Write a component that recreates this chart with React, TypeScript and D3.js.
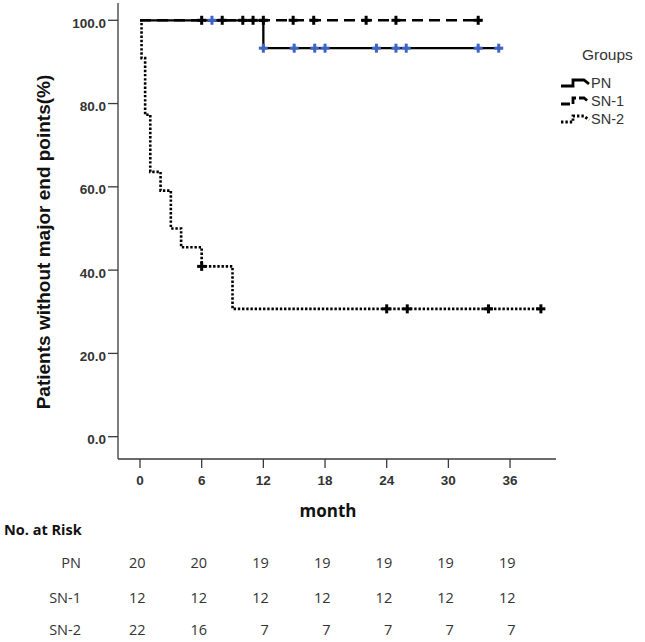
import React from "react";
import * as d3 from "d3";

// ---- Data ----
const groups = ["PN", "SN-1", "SN-2"];

// Kaplan-Meier step points [month, survival %]
const pnSteps: [number, number][] = [
  [0, 100],
  [12, 93.3],
  [35.3, 93.3],
];
const sn1Steps: [number, number][] = [
  [0, 100],
  [33.3, 100],
];
const sn2Steps: [number, number][] = [
  [0, 100],
  [0.15, 90.9],
  [0.5, 77.3],
  [1.0, 63.6],
  [2.0, 59.1],
  [3.0, 50.0],
  [4.0, 45.5],
  [6.0, 40.9],
  [9.0, 30.7],
  [39.0, 30.7],
];

// censor marks [month, survival %]
const pnCensor: [number, number][] = [
  [7, 100], [12, 93.3], [15, 93.3], [17, 93.3], [18, 93.3], [23, 93.3],
  [24.9, 93.3], [25.9, 93.3], [32.9, 93.3], [34.9, 93.3],
];
const sn1Censor: [number, number][] = [
  [6, 100], [8, 100], [10, 100], [11, 100], [12, 100], [14.9, 100],
  [16.9, 100], [22, 100], [24.9, 100], [32.9, 100],
];
const sn2Censor: [number, number][] = [
  [6, 40.9], [24, 30.7], [26, 30.7], [33.9, 30.7], [39, 30.7],
];

const xTicks = [0, 6, 12, 18, 24, 30, 36];
const yTicks = [0, 20, 40, 60, 80, 100];

const riskPN = [20, 20, 19, 19, 19, 19, 19];
const riskSN1 = [12, 12, 12, 12, 12, 12, 12];
const riskSN2 = [22, 16, 7, 7, 7, 7, 7];

// ---- Layout ----
const W = 645;
const H = 642;
const x = d3.scaleLinear().domain([-2.14, 40.47]).range([118, 556]);
const y = d3.scaleLinear().domain([-5.36, 104.15]).range([459, 3]);

const stepPath = (pts: [number, number][]) =>
  d3.line<[number, number]>()
    .x((d) => x(d[0]))
    .y((d) => y(d[1]))
    .curve(d3.curveStepAfter)(pts) || "";

const Cross = ({ cx, cy, color }: { cx: number; cy: number; color: string }) => (
  <g stroke={color} strokeWidth={3}>
    <line x1={cx - 4.5} x2={cx + 4.5} y1={cy} y2={cy} />
    <line x1={cx} x2={cx} y1={cy - 4.5} y2={cy + 4.5} />
  </g>
);

const BLUE = "#3f63c4";
const AX = "#3a3a3a";
const tickFont = "'Liberation Sans', Arial, sans-serif";
const tblFont = "'Open Sans', 'Noto Sans', sans-serif";

export default function App() {
  const riskRows = [riskPN, riskSN1, riskSN2];
  const rowY = [568, 603, 635];
  const colRight = (i: number) => x(xTicks[i]) + 5.5;

  const legendStyles = [
    { dash: undefined as string | undefined, w: 2.8 },
    { dash: "9,3", w: 2.8 },
    { dash: "2.4,2", w: 2.8 },
  ];

  return (
    <svg
      width={W}
      height={H}
      viewBox={`0 0 ${W} ${H}`}
      style={{ position: "absolute", left: 0, top: 0, background: "#fff" }}
    >
      <rect x={0} y={0} width={W} height={H} fill="#fff" />

      {/* axes */}
      <line x1={118} x2={118} y1={3} y2={459} stroke={AX} strokeWidth={1.3} />
      <line x1={118} x2={556} y1={459} y2={459} stroke={AX} strokeWidth={1.3} />
      {yTicks.map((t) => (
        <g key={"y" + t}>
          <line x1={108} x2={118} y1={y(t)} y2={y(t)} stroke={AX} strokeWidth={1.3} />
          <text
            x={106}
            y={y(t) + 7.5}
            textAnchor="end"
            fontFamily={tickFont}
            fontWeight="bold"
            fontSize={13.5}
            fill="#333"
          >
            {t.toFixed(1)}
          </text>
        </g>
      ))}
      {xTicks.map((t) => (
        <g key={"x" + t}>
          <line x1={x(t)} x2={x(t)} y1={459} y2={468} stroke={AX} strokeWidth={1.3} />
          <text
            x={x(t)}
            y={485}
            textAnchor="middle"
            fontFamily={tickFont}
            fontWeight="bold"
            fontSize={13.5}
            fill="#333"
          >
            {t}
          </text>
        </g>
      ))}

      {/* axis titles */}
      <text
        transform={`translate(50,242) rotate(-90)`}
        textAnchor="middle"
        fontFamily={tickFont}
        fontWeight="bold"
        fontSize={19}
        fill="#111"
      >
        Patients without major end points(%)
      </text>
      <text
        x={328}
        y={516.5}
        textAnchor="middle"
        fontFamily={tblFont}
        fontWeight="bold"
        fontSize={17}
        fill="#111"
      >
        month
      </text>

      {/* curves */}
      <path d={stepPath(sn2Steps)} fill="none" stroke="#000" strokeWidth={2.6} strokeDasharray="2.4,1.8" />
      <path d={stepPath(sn1Steps)} fill="none" stroke="#000" strokeWidth={2.5} strokeDasharray="11,6" />
      <path d={stepPath(pnSteps)} fill="none" stroke="#000" strokeWidth={2.3} />

      {sn2Censor.map((c, i) => (
        <Cross key={"c2" + i} cx={x(c[0])} cy={y(c[1])} color="#000" />
      ))}
      {sn1Censor.map((c, i) => (
        <Cross key={"c1" + i} cx={x(c[0])} cy={y(c[1])} color="#000" />
      ))}
      {pnCensor.map((c, i) => (
        <Cross key={"c0" + i} cx={x(c[0])} cy={y(c[1])} color={BLUE} />
      ))}

      {/* legend */}
      <text x={582} y={60} fontFamily={tickFont} fontSize={15.5} fill="#333">
        Groups
      </text>
      {groups.map((g, i) => {
        const ly = 83 + i * 18;
        const st = legendStyles[i];
        return (
          <g key={g}>
            <path
              d={`M561,${ly + 3} H573 V${ly - 3} H584 L589,${ly + 1}`}
              fill="none"
              stroke="#000"
              strokeWidth={st.w}
              strokeDasharray={st.dash}
            />
            <text x={591} y={ly + 5} fontFamily={tickFont} fontSize={14.5} fill="#333">
              {g}
            </text>
          </g>
        );
      })}

      {/* risk table */}
      <text x={4} y={535} fontFamily={tblFont} fontWeight="bold" fontSize={14.5} fill="#111">
        No. at Risk
      </text>
      {groups.map((g, r) => (
        <g key={"r" + g}>
          <text x={81} y={rowY[r]} textAnchor="end" fontFamily={tblFont} fontSize={14.5} fill="#333">
            {g}
          </text>
          {riskRows[r].map((v, i) => (
            <text
              key={i}
              x={colRight(i)}
              y={rowY[r]}
              textAnchor="end"
              fontFamily={tblFont}
              fontSize={14.5}
              fill="#333"
            >
              {v}
            </text>
          ))}
        </g>
      ))}
    </svg>
  );
}
